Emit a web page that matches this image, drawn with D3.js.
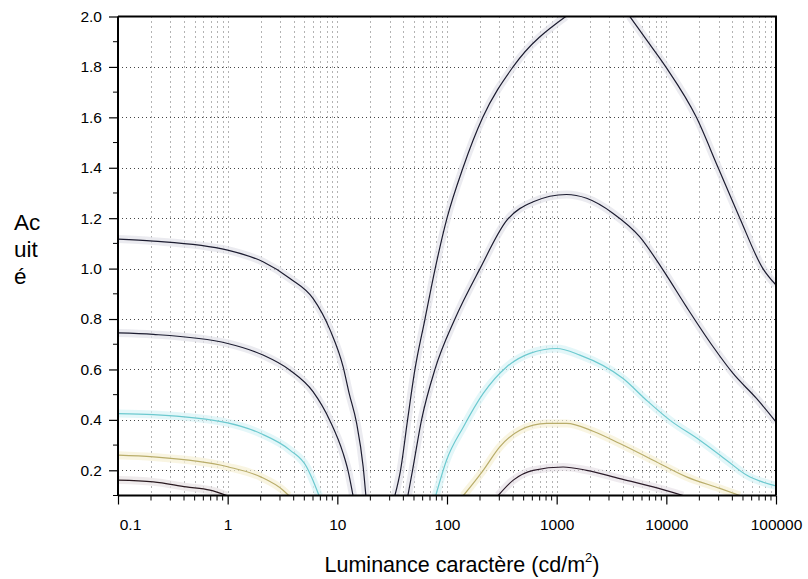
<!DOCTYPE html>
<html><head><meta charset="utf-8">
<script src="https://cdn.jsdelivr.net/npm/d3@7"></script>
<style>body{margin:0;background:#fff}svg{display:block}text{font-family:"Liberation Sans",Arial,sans-serif;fill:#000}</style>
</head><body><div id="chart"></div>
<script>
// ---- data (luminance cd/m², acuité) ----
const xTickValues = [0.1, 1, 10, 100, 1000, 10000, 100000];
const xTickLabels = ["0.1", "1", "10", "100", "1000", "10000", "100000"];
const yTickValues = [0.2, 0.4, 0.6, 0.8, 1.0, 1.2, 1.4, 1.6, 1.8, 2.0];
const yTickLabels = ["0.2", "0.4", "0.6", "0.8", "1.0", "1.2", "1.4", "1.6", "1.8", "2.0"];

const curveA = [[0.1,1.117],[0.21,1.109],[1,1.073],[2.1,1.027],[3.7,0.961],[6,0.882],[8.6,0.756],[11.3,0.61],[12.8,0.506],[15,0.386],[17.2,0.214],[18.2,0.1]];
const curveB = [[0.1,0.745],[0.21,0.739],[1,0.703],[2.1,0.657],[3.7,0.597],[6,0.512],[8.6,0.395],[11.3,0.267],[12.5,0.2],[13.9,0.1]];
const curveC = [[0.1,0.425],[0.21,0.421],[1,0.388],[2,0.346],[3.7,0.28],[5.25,0.213],[5.8,0.174],[6.8,0.1]];
const curveD = [[0.1,0.26],[0.21,0.253],[1,0.214],[2,0.174],[3.2,0.121],[3.6,0.1]];
const curveE = [[0.1,0.161],[0.21,0.154],[0.42,0.134],[0.69,0.121],[0.98,0.1]];
const curveFrise = [[33.5,0.1],[37.7,0.2],[43.7,0.4],[51,0.6],[63,0.8],[78,1.0],[100,1.2],[140,1.4],[212,1.6],[400,1.8],[1210,2.0]];
const curveFfall = [[4645,2.0],[6780,1.9],[9890,1.8],[18800,1.6],[29700,1.4],[46800,1.2],[76000,1.0],[100000,0.935]];
const curveG = [[44,0.1],[48.5,0.2],[58.6,0.4],[77.6,0.6],[118,0.8],[200,1.0],[349,1.19],[611,1.265],[1230,1.294],[1875,1.279],[3275,1.219],[5730,1.126],[9350,0.994],[15270,0.848],[26700,0.69],[40600,0.584],[66400,0.485],[100000,0.392]];
const curveH = [[79,0.1],[99,0.24],[141,0.372],[214,0.505],[349,0.61],[570,0.664],[997,0.683],[1626,0.657],[4035,0.564],[6590,0.478],[10760,0.399],[20200,0.319],[35400,0.24],[53800,0.181],[100000,0.138]];
const curveI = [[141,0.1],[214,0.2],[303,0.293],[462,0.359],[809,0.386],[1230,0.386],[2150,0.355],[3765,0.306],[7590,0.24],[15270,0.174],[30800,0.128],[46800,0.1]];
const curveJ = [[293,0.1],[402,0.161],[611,0.2],[1146,0.213],[1875,0.2],[3765,0.167],[7590,0.134],[14200,0.1]];

const series = [
  {pts: curveA, color: "#1c1c30", halo: "#e2e2ea"},
  {pts: curveB, color: "#1c1c30", halo: "#e2e2ea"},
  {pts: curveC, color: "#6cc9cf", halo: "#d9f4f6"},
  {pts: curveD, color: "#b9ad6a", halo: "#f6f1d6"},
  {pts: curveE, color: "#2a1a20", halo: "#e8e2e4"},
  {pts: curveFrise, color: "#1c1c30", halo: "#e2e2ea"},
  {pts: curveFfall, color: "#1c1c30", halo: "#e2e2ea"},
  {pts: curveG, color: "#1c1c30", halo: "#e2e2ea"},
  {pts: curveH, color: "#6cc9cf", halo: "#d9f4f6"},
  {pts: curveI, color: "#b9ad6a", halo: "#f6f1d6"},
  {pts: curveJ, color: "#2a1a28", halo: "#e8e2e8"}
];

// ---- layout ----
const W = 808, H = 579;
const L = 118, R = 776, T = 16.5, B = 495.5;
const svg = d3.select("#chart").append("svg").attr("width", W).attr("height", H);
svg.append("rect").attr("width", W).attr("height", H).attr("fill", "#fff");

const x = d3.scaleLog().domain([0.1, 100000]).range([L, R]);
const y = d3.scaleLinear().domain([0.1, 2.0]).range([B, T]);

const allLogTicks = [];
for (let e = -1; e < 5; e++) for (let m = 1; m <= 9; m++) allLogTicks.push(m * Math.pow(10, e));
allLogTicks.push(100000);
const minorX = allLogTicks.filter(v => !xTickValues.some(t => Math.abs(t - v) / t < 1e-9));
const minorY = d3.range(1, 20).map(i => +(i * 0.1).toFixed(1)).filter(v => !yTickValues.some(t => Math.abs(t - v) < 1e-9));

// grid
const grid = svg.append("g");
grid.selectAll("line.vg").data(allLogTicks.filter(v => v > 0.1 && v < 100000)).join("line")
  .attr("x1", d => Math.round(x(d)) + 0.5).attr("x2", d => Math.round(x(d)) + 0.5)
  .attr("y1", T).attr("y2", B)
  .attr("stroke", "#666").attr("stroke-width", 1).attr("stroke-dasharray", "1,4");
grid.selectAll("line.hg").data(yTickValues.filter(v => v < 2)).join("line")
  .attr("x1", L).attr("x2", R)
  .attr("y1", d => Math.round(y(d)) + 0.5).attr("y2", d => Math.round(y(d)) + 0.5)
  .attr("stroke", "#444").attr("stroke-width", 1).attr("stroke-dasharray", "1,3");

// clip
svg.append("clipPath").attr("id", "clip").append("rect")
  .attr("x", L).attr("y", T).attr("width", R - L).attr("height", B - T);

const line = d3.line().x(d => x(d[0])).y(d => y(d[1])).curve(d3.curveMonotoneX);
const plot = svg.append("g").attr("clip-path", "url(#clip)");
plot.selectAll("path.halo").data(series).join("path")
  .attr("d", d => line(d.pts)).attr("fill", "none")
  .attr("stroke", d => d.halo).attr("stroke-width", 8).attr("stroke-opacity", 0.7);
plot.selectAll("path.main").data(series).join("path")
  .attr("d", d => line(d.pts)).attr("fill", "none")
  .attr("stroke", d => d.color).attr("stroke-width", 1.2);

// axes
const xAxis = svg.append("g").attr("transform", `translate(0,${B})`)
  .call(d3.axisBottom(x).tickValues(xTickValues).tickSize(9).tickPadding(14)
    .tickFormat((d, i) => xTickLabels[i]));
xAxis.append("g").selectAll("line").data(minorX).join("line")
  .attr("x1", d => x(d)).attr("x2", d => x(d)).attr("y1", 0).attr("y2", 5)
  .attr("stroke", "#000");
const yAxis = svg.append("g").attr("transform", `translate(${L},0)`)
  .call(d3.axisLeft(y).tickValues(yTickValues).tickSize(9).tickPadding(7)
    .tickFormat((d, i) => yTickLabels[i]));
yAxis.append("g").selectAll("line").data(minorY).join("line")
  .attr("x1", 0).attr("x2", -5).attr("y1", d => y(d)).attr("y2", d => y(d))
  .attr("stroke", "#000");
[xAxis, yAxis].forEach(g => {
  g.select(".domain").attr("stroke", "#000").attr("stroke-width", 2);
  g.selectAll(".tick line").attr("stroke", "#000").attr("stroke-width", 1.2);
  g.selectAll("text").attr("font-size", 15.5).attr("font-family", '"Liberation Sans", Arial, sans-serif');
});
xAxis.select(".domain").attr("d", `M${L},0H${R}`);
yAxis.select(".domain").attr("d", `M0,${T}V${B}`);
xAxis.selectAll(".tick text").filter((d, i) => i === 0).attr("dx", 12);

// frame top/right
svg.append("line").attr("x1", L).attr("x2", R + 1).attr("y1", T).attr("y2", T).attr("stroke", "#000").attr("stroke-width", 2);
svg.append("line").attr("x1", R).attr("x2", R).attr("y1", T).attr("y2", B).attr("stroke", "#000").attr("stroke-width", 2);

// titles
const yt = svg.append("text").attr("x", 14).attr("font-size", 22.5);
["Ac", "uit", "é"].forEach((s, i) => yt.append("tspan").attr("x", 14).attr("y", 230 + i * 27).text(s));
const xt = svg.append("text").attr("x", 462).attr("y", 572).attr("text-anchor", "middle").attr("font-size", 21.5);
xt.append("tspan").text("Luminance caractère (cd/m");
xt.append("tspan").attr("font-size", 13).attr("dy", -10).text("2");
xt.append("tspan").attr("dy", 10).text(")");
</script></body></html>
